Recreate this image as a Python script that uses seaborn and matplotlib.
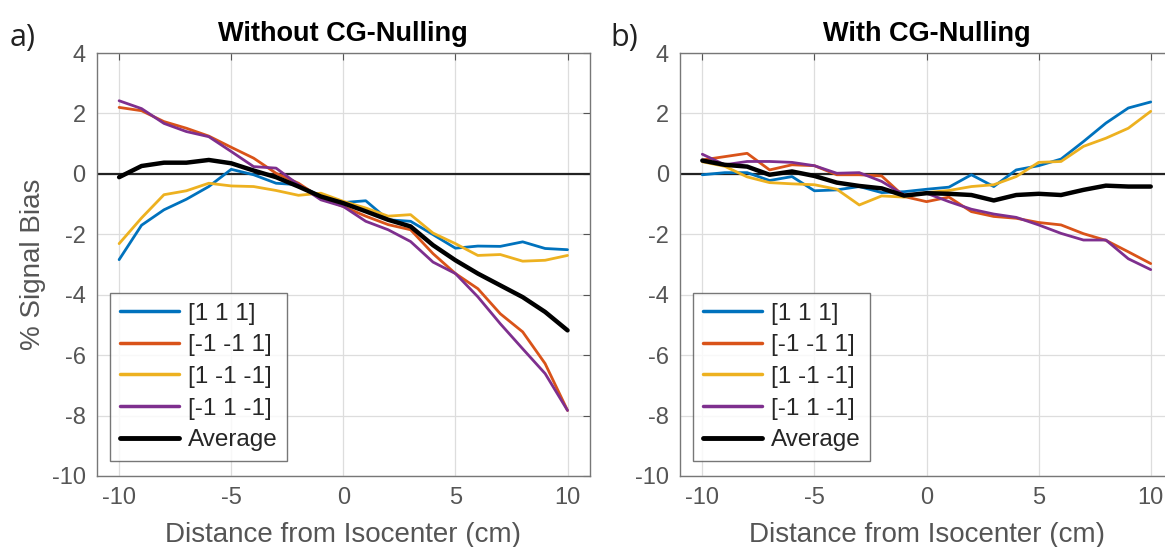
import numpy as np
import pandas as pd
import matplotlib
matplotlib.use("Agg")
import matplotlib.pyplot as plt
import seaborn as sns

x = list(range(-10, 11))
series_names = ["[1 1 1]", "[-1 -1 1]", "[1 -1 -1]", "[-1 1 -1]", "Average"]
colors = ["#0072BD", "#D95319", "#EDB120", "#7E2F8E", "#000000"]

# Panel a) Without CG-Nulling
a_111 = [-2.84, -1.70, -1.19, -0.84, -0.42, 0.15, -0.03, -0.31, -0.36, -0.75, -0.95,
         -0.89, -1.52, -1.57, -2.01, -2.46, -2.39, -2.40, -2.25, -2.47, -2.51]
a_m1m11 = [2.20, 2.09, 1.73, 1.51, 1.25, 0.88, 0.52, 0.02, -0.31, -0.80, -1.08,
           -1.40, -1.68, -1.85, -2.64, -3.30, -3.80, -4.63, -5.23, -6.28, -7.83]
a_1m1m1 = [-2.31, -1.46, -0.69, -0.56, -0.31, -0.40, -0.42, -0.55, -0.71, -0.64, -0.91,
           -1.13, -1.40, -1.35, -1.96, -2.31, -2.70, -2.67, -2.89, -2.86, -2.70]
a_m11m1 = [2.42, 2.16, 1.67, 1.40, 1.23, 0.74, 0.24, 0.19, -0.36, -0.86, -1.08,
           -1.57, -1.85, -2.24, -2.92, -3.30, -4.07, -4.96, -5.79, -6.61, -7.83]
a_avg = [-0.11, 0.26, 0.37, 0.37, 0.46, 0.35, 0.11, -0.11, -0.42, -0.75, -0.97,
         -1.24, -1.52, -1.74, -2.36, -2.86, -3.30, -3.69, -4.08, -4.57, -5.18]

# Panel b) With CG-Nulling
b_111 = [-0.03, 0.04, 0.04, -0.22, -0.09, -0.56, -0.53, -0.42, -0.62, -0.59, -0.51,
         -0.44, -0.03, -0.42, 0.13, 0.27, 0.49, 1.07, 1.68, 2.18, 2.38]
b_m1m11 = [0.46, 0.57, 0.68, 0.13, 0.30, 0.27, -0.03, -0.03, -0.07, -0.75, -0.92,
           -0.77, -1.25, -1.41, -1.47, -1.61, -1.69, -1.98, -2.20, -2.58, -2.97]
b_1m1m1 = [0.40, 0.25, -0.10, -0.29, -0.33, -0.36, -0.51, -1.03, -0.73, -0.77, -0.62,
           -0.55, -0.42, -0.36, -0.09, 0.38, 0.41, 0.91, 1.18, 1.51, 2.07]
b_m11m1 = [0.65, 0.30, 0.41, 0.41, 0.38, 0.27, 0.02, 0.04, -0.25, -0.70, -0.64,
           -0.92, -1.17, -1.33, -1.44, -1.69, -1.97, -2.19, -2.19, -2.81, -3.17]
b_avg = [0.44, 0.30, 0.24, -0.03, 0.08, -0.07, -0.29, -0.40, -0.48, -0.72, -0.64,
         -0.66, -0.70, -0.88, -0.70, -0.66, -0.70, -0.53, -0.39, -0.42, -0.42]

panels = [
    ("a)", "Without CG-Nulling", [a_111, a_m1m11, a_1m1m1, a_m11m1, a_avg]),
    ("b)", "With CG-Nulling", [b_111, b_m1m11, b_1m1m1, b_m11m1, b_avg]),
]

sns.set_theme(style="white")
plt.rcParams['font.family'] = ['Liberation Sans', 'DejaVu Sans']

fig = plt.figure(figsize=(11.65, 5.47), dpi=100)
axes_pos = [[0.083, 0.1298, 0.4234, 0.7733], [0.5836, 0.1298, 0.4234, 0.7733]]
grey = "#555555"

for i, (tag, title, vals) in enumerate(panels):
    ax = fig.add_axes(axes_pos[i])
    ax.axhline(0, color="#222222", lw=1.6, zorder=1)
    for name, col, v in zip(series_names, colors, vals):
        df = pd.DataFrame({"x": x, "y": v})
        sns.lineplot(data=df, x="x", y="y", ax=ax, color=col,
                     lw=3.2 if name == "Average" else 2.0, label=name, zorder=3)
    ax.set_xlim(-11, 11)
    ax.set_ylim(-10, 4)
    ax.set_xticks([-10, -5, 0, 5, 10])
    ax.set_yticks([-10, -8, -6, -4, -2, 0, 2, 4])
    ax.set_xticklabels(["-10", "-5", "0", "5", "10"])
    ax.set_yticklabels(["-10", "-8", "-6", "-4", "-2", "0", "2", "4"])
    ax.grid(True, color="#dddddd", lw=0.9)
    ax.tick_params(direction="in", length=5, width=0.8, colors=grey,
                   labelsize=17, top=True, right=True, pad=8, labelcolor=grey)
    for s in ax.spines.values():
        s.set_color("#777777")
        s.set_linewidth(1.0)
    ax.set_xlabel("Distance from Isocenter (cm)", fontsize=20, color=grey, labelpad=9)
    if i == 0:
        ax.set_ylabel("% Signal Bias", fontsize=20, color=grey, labelpad=4)
    else:
        ax.set_ylabel("")
    ax.set_title(title, fontsize=19.5, fontweight="bold", color="black", pad=9)
    leg = ax.legend(loc="lower left", fontsize=17.5, frameon=True, fancybox=False,
                    handlelength=2.45, handletextpad=0.35, borderpad=0.4,
                    labelspacing=0.4, borderaxespad=0.0,
                    bbox_to_anchor=(0.027, 0.035))
    leg.get_frame().set_edgecolor("#555555")
    leg.get_frame().set_linewidth(1.0)
    for h in leg.get_lines():
        h.set_linewidth(3.5 if h.get_label() == "Average" else 2.5)
    fig.text(axes_pos[i][0] - 0.075 if i == 0 else axes_pos[i][0] - 0.06, 0.915, tag,
             fontsize=22, family=["Open Sans", "DejaVu Sans"], color="#222222")

fig.savefig("out.png", dpi=100)
